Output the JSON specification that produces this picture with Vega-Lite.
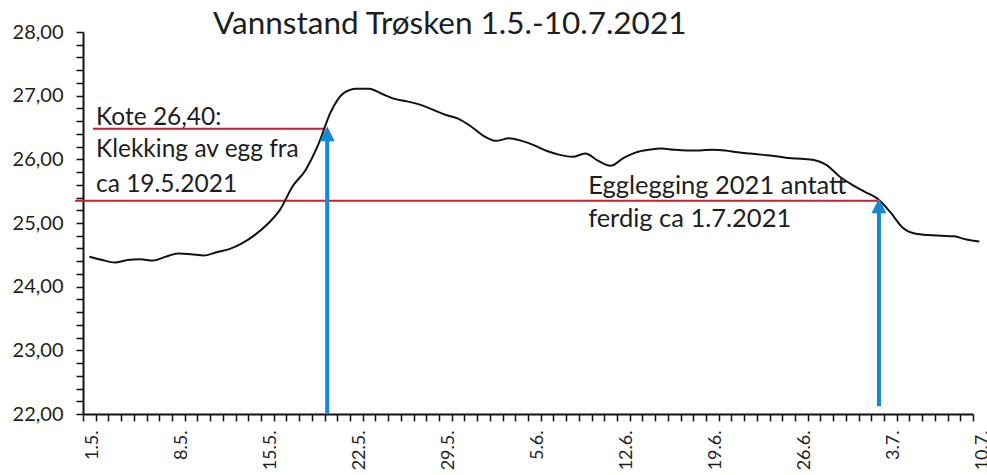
{
  "$schema": "https://vega.github.io/schema/vega-lite/v6.json",
  "width": 890,
  "height": 382,
  "autosize": {"type": "none"},
  "padding": {"left": 83, "top": 32, "right": 14, "bottom": 61},
  "background": "white",
  "title": {
    "text": "Vannstand Trøsken 1.5.-10.7.2021",
    "font": "Lato",
    "fontSize": 31.5,
    "fontWeight": "normal",
    "color": "#1e1e1e",
    "anchor": "start",
    "frame": "group",
    "dx": 130,
    "dy": 43,
    "baseline": "alphabetic",
    "offset": 0
  },
  "config": {"view": {"stroke": null}},
  "datasets": {
    "series": [
      {"date": "2021-05-01T12:00:00Z", "level": 24.47},
      {"date": "2021-05-02T12:00:00Z", "level": 24.42},
      {"date": "2021-05-03T12:00:00Z", "level": 24.38},
      {"date": "2021-05-04T12:00:00Z", "level": 24.42},
      {"date": "2021-05-05T12:00:00Z", "level": 24.43},
      {"date": "2021-05-06T12:00:00Z", "level": 24.41},
      {"date": "2021-05-07T12:00:00Z", "level": 24.47},
      {"date": "2021-05-08T12:00:00Z", "level": 24.52},
      {"date": "2021-05-09T12:00:00Z", "level": 24.51},
      {"date": "2021-05-10T12:00:00Z", "level": 24.49},
      {"date": "2021-05-11T12:00:00Z", "level": 24.54},
      {"date": "2021-05-12T12:00:00Z", "level": 24.59},
      {"date": "2021-05-13T12:00:00Z", "level": 24.68},
      {"date": "2021-05-14T12:00:00Z", "level": 24.81},
      {"date": "2021-05-15T12:00:00Z", "level": 24.98},
      {"date": "2021-05-16T12:00:00Z", "level": 25.21},
      {"date": "2021-05-17T12:00:00Z", "level": 25.58},
      {"date": "2021-05-18T12:00:00Z", "level": 25.83},
      {"date": "2021-05-19T12:00:00Z", "level": 26.23},
      {"date": "2021-05-20T12:00:00Z", "level": 26.75},
      {"date": "2021-05-21T12:00:00Z", "level": 27.04},
      {"date": "2021-05-22T12:00:00Z", "level": 27.11},
      {"date": "2021-05-23T12:00:00Z", "level": 27.11},
      {"date": "2021-05-24T12:00:00Z", "level": 27.03},
      {"date": "2021-05-25T12:00:00Z", "level": 26.95},
      {"date": "2021-05-26T12:00:00Z", "level": 26.91},
      {"date": "2021-05-27T12:00:00Z", "level": 26.86},
      {"date": "2021-05-28T12:00:00Z", "level": 26.78},
      {"date": "2021-05-29T12:00:00Z", "level": 26.70},
      {"date": "2021-05-30T12:00:00Z", "level": 26.64},
      {"date": "2021-05-31T12:00:00Z", "level": 26.52},
      {"date": "2021-06-01T12:00:00Z", "level": 26.37},
      {"date": "2021-06-02T12:00:00Z", "level": 26.29},
      {"date": "2021-06-03T12:00:00Z", "level": 26.33},
      {"date": "2021-06-04T12:00:00Z", "level": 26.29},
      {"date": "2021-06-05T12:00:00Z", "level": 26.22},
      {"date": "2021-06-06T12:00:00Z", "level": 26.13},
      {"date": "2021-06-07T12:00:00Z", "level": 26.07},
      {"date": "2021-06-08T12:00:00Z", "level": 26.04},
      {"date": "2021-06-09T12:00:00Z", "level": 26.09},
      {"date": "2021-06-10T12:00:00Z", "level": 25.98},
      {"date": "2021-06-11T12:00:00Z", "level": 25.90},
      {"date": "2021-06-12T12:00:00Z", "level": 26.02},
      {"date": "2021-06-13T12:00:00Z", "level": 26.11},
      {"date": "2021-06-14T12:00:00Z", "level": 26.15},
      {"date": "2021-06-15T12:00:00Z", "level": 26.17},
      {"date": "2021-06-16T12:00:00Z", "level": 26.15},
      {"date": "2021-06-17T12:00:00Z", "level": 26.14},
      {"date": "2021-06-18T12:00:00Z", "level": 26.14},
      {"date": "2021-06-19T12:00:00Z", "level": 26.15},
      {"date": "2021-06-20T12:00:00Z", "level": 26.14},
      {"date": "2021-06-21T12:00:00Z", "level": 26.11},
      {"date": "2021-06-22T12:00:00Z", "level": 26.09},
      {"date": "2021-06-23T12:00:00Z", "level": 26.07},
      {"date": "2021-06-24T12:00:00Z", "level": 26.05},
      {"date": "2021-06-25T12:00:00Z", "level": 26.02},
      {"date": "2021-06-26T12:00:00Z", "level": 26.01},
      {"date": "2021-06-27T12:00:00Z", "level": 25.99},
      {"date": "2021-06-28T12:00:00Z", "level": 25.91},
      {"date": "2021-06-29T12:00:00Z", "level": 25.73},
      {"date": "2021-06-30T12:00:00Z", "level": 25.60},
      {"date": "2021-07-01T12:00:00Z", "level": 25.49},
      {"date": "2021-07-02T12:00:00Z", "level": 25.38},
      {"date": "2021-07-03T12:00:00Z", "level": 25.17},
      {"date": "2021-07-04T12:00:00Z", "level": 24.92},
      {"date": "2021-07-05T12:00:00Z", "level": 24.83},
      {"date": "2021-07-06T12:00:00Z", "level": 24.81},
      {"date": "2021-07-07T12:00:00Z", "level": 24.80},
      {"date": "2021-07-08T12:00:00Z", "level": 24.79},
      {"date": "2021-07-09T12:00:00Z", "level": 24.74},
      {"date": "2021-07-10T12:00:00Z", "level": 24.71}
    ],
    "redlines": [
      {"date": "2021-05-01T19:00:00Z", "date2": "2021-05-20T01:00:00Z", "level": 26.48},
      {"date": "2021-04-30T09:00:00Z", "date2": "2021-07-02T17:00:00Z", "level": 25.35}
    ],
    "arrows": [
      {"date": "2021-05-20T05:00:00Z", "level": 22.0, "level2": 26.35},
      {"date": "2021-07-02T14:30:00Z", "level": 22.12, "level2": 25.22}
    ],
    "heads": [
      {"date": "2021-05-20T05:00:00Z", "level": 26.52},
      {"date": "2021-07-02T14:30:00Z", "level": 25.39}
    ],
    "notes": [
      {"date": "2021-05-02T00:30:00Z", "level": 26.545, "text": "Kote 26,40:", "size": "a"},
      {"date": "2021-05-02T00:30:00Z", "level": 26.04, "text": "Klekking av egg fra", "size": "a"},
      {"date": "2021-05-02T00:30:00Z", "level": 25.48, "text": "ca 19.5.2021", "size": "a"},
      {"date": "2021-06-09T17:30:00Z", "level": 25.46, "text": "Egglegging 2021 antatt", "size": "b"},
      {"date": "2021-06-09T17:30:00Z", "level": 24.93, "text": "ferdig ca 1.7.2021", "size": "b"}
    ]
  },
  "encoding": {
    "x": {
      "field": "date",
      "type": "temporal",
      "scale": {
        "type": "utc",
        "domain": [
          {"year": 2021, "month": 5, "date": 1, "utc": true},
          {"year": 2021, "month": 7, "date": 10, "utc": true}
        ],
        "nice": false
      },
      "axis": {
        "title": null,
        "grid": false,
        "tickCount": {"interval": "day", "step": 1},
        "labelExpr": "((datum.value - 1619827200000) / 86400000) % 7 == 0 ? utcFormat(datum.value, '%-d.%-m.') : ''",
        "labelAngle": -90,
        "labelAlign": "right",
        "labelBaseline": "top",
        "labelOverlap": false,
        "labelFlush": false,
        "labelFont": "Lato",
        "labelFontSize": 18,
        "labelColor": "#1e1e1e",
        "labelPadding": 9,
        "tickSize": 7,
        "tickWidth": 1.5,
        "tickColor": "#111",
        "domainColor": "#111",
        "domainWidth": 2
      }
    },
    "y": {
      "field": "level",
      "type": "quantitative",
      "scale": {"domain": [22, 28], "nice": false, "zero": false},
      "axis": {
        "title": null,
        "grid": false,
        "values": [22, 22.2, 22.4, 22.6, 22.8, 23, 23.2, 23.4, 23.6, 23.8, 24, 24.2, 24.4, 24.6, 24.8, 25, 25.2, 25.4, 25.6, 25.8, 26, 26.2, 26.4, 26.6, 26.8, 27, 27.2, 27.4, 27.6, 27.8, 28],
        "labelExpr": "abs(datum.value - round(datum.value)) < 0.01 ? replace(format(datum.value, '.2f'), '.', ',') : ''",
        "labelOverlap": false,
        "labelFlush": false,
        "labelFont": "Lato",
        "labelFontSize": 20,
        "labelColor": "#1e1e1e",
        "labelPadding": 13,
        "tickSize": 7,
        "tickWidth": 1.5,
        "tickColor": "#111",
        "domainColor": "#111",
        "domainWidth": 2
      }
    }
  },
  "layer": [
    {
      "data": {"name": "redlines"},
      "mark": {"type": "rule", "color": "#cc1f2f", "strokeWidth": 2},
      "encoding": {"x2": {"field": "date2"}}
    },
    {
      "data": {"name": "series"},
      "mark": {"type": "line", "color": "#111111", "strokeWidth": 2, "interpolate": "monotone"}
    },
    {
      "data": {"name": "arrows"},
      "mark": {"type": "rule", "color": "#1788d6", "strokeWidth": 4},
      "encoding": {"y2": {"field": "level2"}}
    },
    {
      "data": {"name": "heads"},
      "mark": {"type": "point", "shape": "M0,0 L0.5,1 L-0.5,1 Z", "size": 900, "filled": true, "color": "#1788d6", "opacity": 1, "strokeWidth": 0}
    },
    {
      "data": {"name": "notes"},
      "mark": {"type": "text", "align": "left", "baseline": "alphabetic", "font": "Lato", "color": "#1e1e1e"},
      "encoding": {
        "text": {"field": "text"},
        "size": {"field": "size", "type": "nominal", "scale": {"domain": ["a", "b"], "range": [24.5, 25.5]}, "legend": null}
      }
    }
  ]
}
